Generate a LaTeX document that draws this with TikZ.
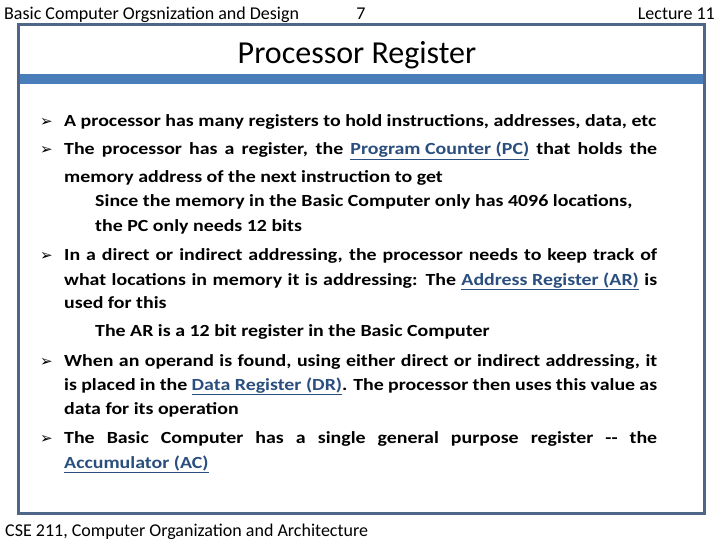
\documentclass[tikz,border=0pt]{standalone}
\usepackage{fontspec}
\setmainfont{Carlito}
\newfontfamily\bodyf[FakeStretch=1.17]{Carlito}
\newfontfamily\djv{DejaVu Sans}
\begin{document}
\begin{tikzpicture}[x=1pt,y=-1pt,
  txt/.style={anchor=base west,inner sep=0pt,font=\fontsize{17}{20}\selectfont\bodyf\bfseries},
  bul/.style={anchor=base west,inner sep=0pt,font=\fontsize{15}{18}\selectfont\djv}]
\definecolor{frame}{HTML}{4E6789}
\definecolor{bar}{HTML}{4A7EBB}
\definecolor{lnk}{HTML}{2A4F7E}
\newcommand{\lk}[1]{\textcolor{lnk}{\underline{#1}}}
\useasboundingbox (0,0) rectangle (720,540);
\fill[white] (0,0) rectangle (720,540);
\draw[frame,line width=3pt] (18,25) rectangle (704,513);
\fill[bar] (19.5,74) rectangle (702.5,84);
\node[anchor=base west,inner sep=0pt,font=\fontsize{18}{20}\selectfont] (h1) at (4,20) {Basic Computer Orgsnization and Design};
\node[anchor=base,inner sep=0pt,font=\fontsize{18}{20}\selectfont] (h2) at (361,20) {7};
\node[anchor=base east,inner sep=0pt,font=\fontsize{18}{20}\selectfont] (h3) at (715,20) {Lecture 11};
\node[anchor=base,inner sep=0pt,font=\fontsize{32}{36}\selectfont] (t) at (357,64) {Processor Register};
\foreach \y/\n in {127/b1,155/b2,260/b3,366/b4,443/b5}
  \node[bul] (\n) at (40,\y) {➢};
\node[txt] (l1) at (64,127) {A processor has many registers to hold instructions, addresses, data, etc};
\node[txt] (l2) at (64,155) {\makebox[593pt][s]{The processor has a register, the \lk{Program Counter (PC)} that holds the}};
\node[txt] (l3) at (64,183) {memory address of the next instruction to get};
\node[txt] (l4) at (95,207) {Since the memory in the Basic Computer only has 4096 locations,};
\node[txt] (l5) at (95,231) {the PC only needs 12 bits};
\node[txt] (l6) at (64,260) {\makebox[593pt][s]{In a direct or indirect addressing, the processor needs to keep track of}};
\node[txt] (l7) at (64,285) {\makebox[593pt][s]{what locations in memory it is addressing: The \lk{Address Register (AR)} is}};
\node[txt] (l8) at (64,308) {used for this};
\node[txt] (l9) at (95,336) {The AR is a 12 bit register in the Basic Computer};
\node[txt] (l10) at (64,366) {\makebox[593pt][s]{When an operand is found, using either direct or indirect addressing, it}};
\node[txt] (l11) at (64,390) {\makebox[593pt][s]{is placed in the \lk{Data Register (DR)}. The processor then uses this value as}};
\node[txt] (l12) at (64,414) {data for its operation};
\node[txt] (l13) at (64,443) {\makebox[593pt][s]{The Basic Computer has a single general purpose register -- the}};
\node[txt] (l14) at (64,468) {\lk{Accumulator (AC)}};
\node[anchor=base west,inner sep=0pt,font=\fontsize{18}{20}\selectfont] (f) at (5,536) {CSE 211, Computer Organization and Architecture};
\end{tikzpicture}
\end{document}
